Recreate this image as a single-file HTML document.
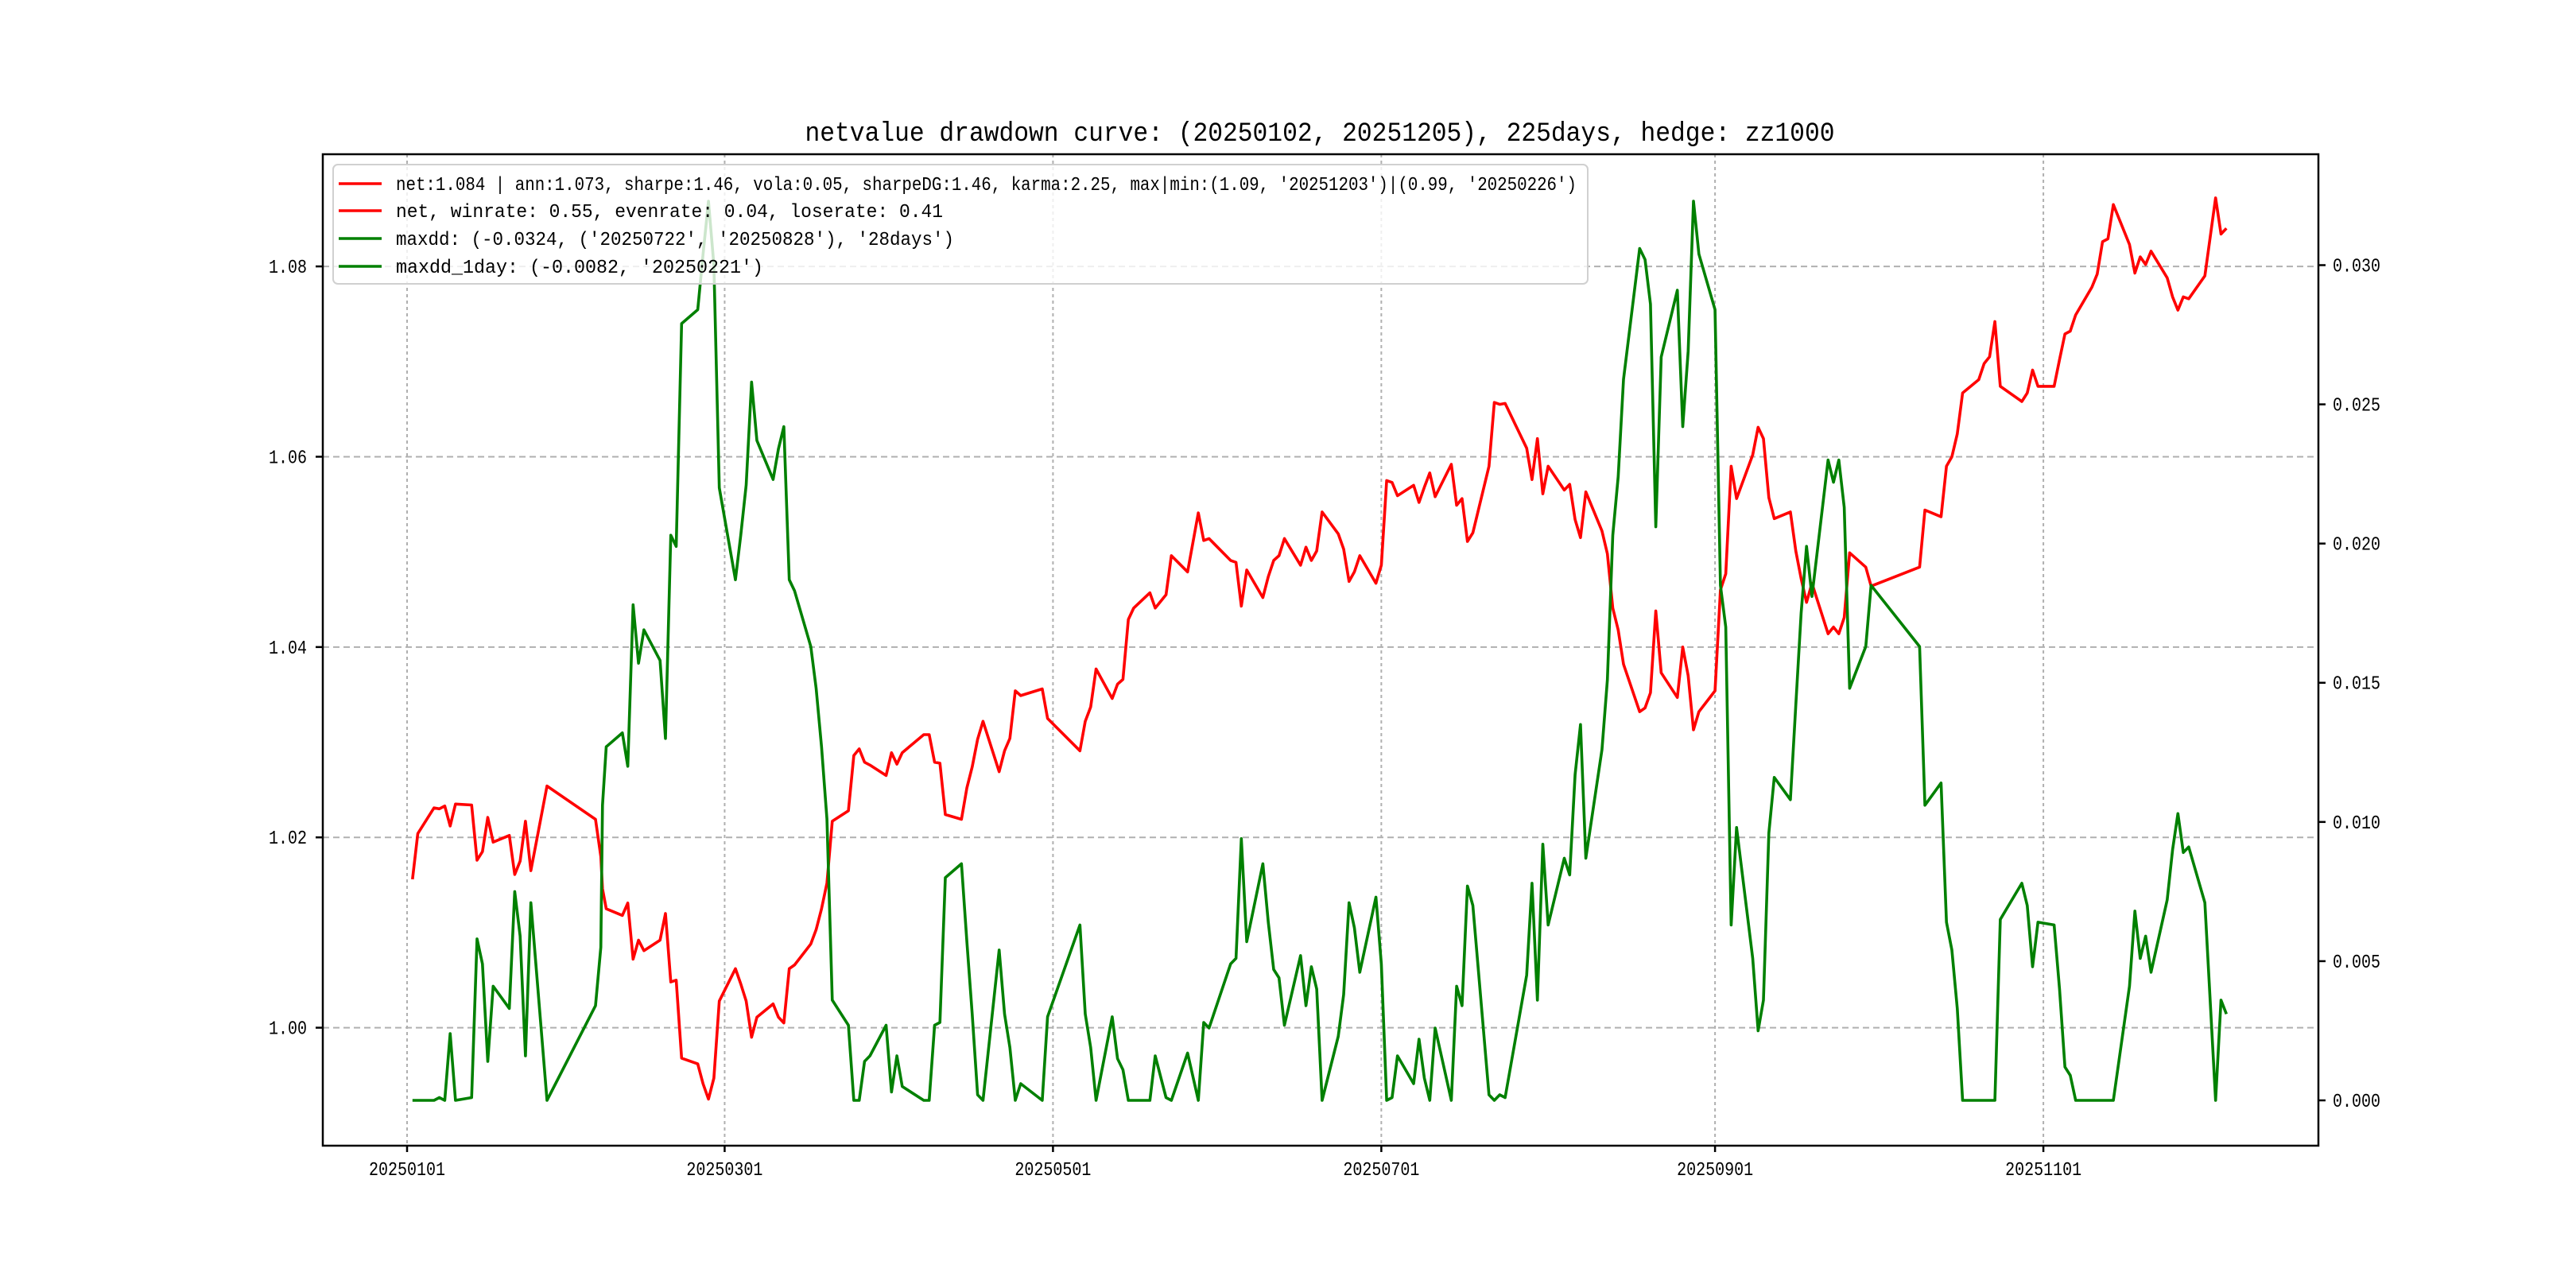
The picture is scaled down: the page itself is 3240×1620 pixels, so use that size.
<!DOCTYPE html>
<html><head><meta charset="utf-8"><style>
html,body{margin:0;padding:0;background:#fff;}
svg{display:block;font-family:"Liberation Mono","Noto Sans CJK SC",monospace;}
</style></head><body>
<svg id="chart" width="3240" height="1620" viewBox="0 0 3240 1620" xmlns="http://www.w3.org/2000/svg">
<rect x="0" y="0" width="3240" height="1620" fill="#fff"/>
<text x="1660" y="177" font-size="34" text-anchor="middle" textLength="1295" lengthAdjust="spacingAndGlyphs" fill="#000">netvalue drawdown curve: (20250102, 20251205), 225days, hedge: zz1000</text>
<g id="grid"></g>
<g id="series"></g>
<rect x="406" y="194" width="2510" height="1247" fill="none" stroke="#000" stroke-width="2.5"/>
<g id="axes"></g>
<g>
<rect x="419" y="207" width="1578" height="150" rx="6" fill="#fff" fill-opacity="0.8" stroke="#d0d0d0" stroke-width="2"/>
<line x1="426" y1="231" x2="480" y2="231" stroke="#ff0000" stroke-width="3.5"/>
<text x="498" y="239" font-size="24" textLength="1485" lengthAdjust="spacingAndGlyphs">net:1.084 | ann:1.073, sharpe:1.46, vola:0.05, sharpeDG:1.46, karma:2.25, max|min:(1.09, '20251203')|(0.99, '20250226')</text>
<line x1="426" y1="265" x2="480" y2="265" stroke="#ff0000" stroke-width="3.5"/>
<text x="498" y="273" font-size="24" textLength="688" lengthAdjust="spacingAndGlyphs">net, winrate: 0.55, evenrate: 0.04, loserate: 0.41</text>
<line x1="426" y1="300" x2="480" y2="300" stroke="#008000" stroke-width="3.5"/>
<text x="498" y="308" font-size="24" textLength="702" lengthAdjust="spacingAndGlyphs">maxdd: (-0.0324, ('20250722', '20250828'), '28days')</text>
<line x1="426" y1="335" x2="480" y2="335" stroke="#008000" stroke-width="3.5"/>
<text x="498" y="343" font-size="24" textLength="462" lengthAdjust="spacingAndGlyphs">maxdd_1day: (-0.0082, '20250221')</text>
</g>
</svg>
<script>
// day offsets from 20250101
const days = [1,2,5,6,7,8,9,12,13,14,15,16,19,20,21,22,23,26,35,36,36.3,37,40,41,42,43,44,47,48,49,50,51,54,55,56,57,58,61,62,63,64,65,68,69,70,71,72,75,76,77,78,79,82,83,84,85,86,89,90,91,92,96,97,98,99,100,103,104,105,106,107,110,111,112,113,114,118,119,125,126,127,128,131,132,133,134,135,138,139,141,142,145,147,148,149,153,154,155,156,159,160,161,162,163,166,167,168,169,170,173,174,175,176,177,180,181,182,183,184,187,188,189,190,191,194,195,196,197,198,201,202,203,204,208,209,210,211,212,215,216,217,218,219,222,223,224,225,226,229,230,231,232,233,236,237,238,239,240,243,244,245,246,247,250,251,252,253,254,257,258,259,260,261,264,265,266,267,268,271,272,281,282,285,286,287,288,289,292,293,294,295,296,300,301,302,303,306,307,308,309,310,313,314,315,316,317,320,321,322,323,324,327,328,329,330,331,334,336,337,338];
const netValues = [1.0156,1.0204,1.0231,1.0230,1.0233,1.0212,1.0235,1.0234,1.0176,1.0185,1.0221,1.0195,1.0202,1.0161,1.0175,1.0217,1.0165,1.0254,1.0219,1.0180,1.0146,1.0125,1.0118,1.0131,1.0072,1.0092,1.0081,1.0092,1.0120,1.0048,1.0050,0.9968,0.9962,0.9941,0.9925,0.9947,1.0028,1.0062,1.0046,1.0028,0.9990,1.0011,1.0025,1.0011,1.0005,1.0062,1.0066,1.0088,1.0103,1.0125,1.0152,1.0217,1.0228,1.0286,1.0293,1.0279,1.0276,1.0265,1.0289,1.0277,1.0289,1.0308,1.0308,1.0279,1.0278,1.0224,1.0219,1.0252,1.0274,1.0303,1.0322,1.0269,1.0291,1.0304,1.0354,1.0349,1.0356,1.0325,1.0291,1.0322,1.0337,1.0377,1.0346,1.0361,1.0366,1.0429,1.0441,1.0457,1.0441,1.0455,1.0496,1.0479,1.0541,1.0512,1.0514,1.0491,1.0489,1.0443,1.0481,1.0452,1.0474,1.0491,1.0496,1.0514,1.0486,1.0505,1.0491,1.0501,1.0542,1.0519,1.0503,1.0469,1.0479,1.0496,1.0467,1.0486,1.0575,1.0573,1.0559,1.0570,1.0552,1.0568,1.0583,1.0558,1.0592,1.0549,1.0556,1.0511,1.0520,1.0590,1.0657,1.0655,1.0656,1.0609,1.0576,1.0619,1.0561,1.0590,1.0565,1.0571,1.0534,1.0515,1.0563,1.0522,1.0498,1.0441,1.0418,1.0382,1.0332,1.0336,1.0352,1.0438,1.0373,1.0347,1.0400,1.0370,1.0313,1.0332,1.0354,1.0460,1.0477,1.0590,1.0556,1.0602,1.0631,1.0619,1.0557,1.0535,1.0542,1.0501,1.0472,1.0447,1.0467,1.0414,1.0421,1.0414,1.0431,1.0499,1.0484,1.0464,1.0484,1.0544,1.0537,1.0590,1.0600,1.0624,1.0667,1.0681,1.0698,1.0705,1.0742,1.0674,1.0658,1.0667,1.0691,1.0674,1.0674,1.0702,1.0729,1.0732,1.0749,1.0778,1.0792,1.0826,1.0829,1.0865,1.0823,1.0793,1.0810,1.0802,1.0816,1.0788,1.0768,1.0754,1.0768,1.0766,1.0790,1.0872,1.0834,1.0840];
const ddValues = [0,0,0,0.0001,0,0.0024,0,0.0001,0.0058,0.0049,0.0014,0.0041,0.0033,0.0075,0.0059,0.0016,0.0071,0,0.0034,0.0055,0.0106,0.0127,0.0132,0.0120,0.0178,0.0157,0.0169,0.0158,0.0130,0.0203,0.0199,0.0279,0.0284,0.0304,0.0323,0.0300,0.0220,0.0187,0.0203,0.0221,0.0258,0.0237,0.0223,0.0234,0.0242,0.0187,0.0183,0.0163,0.0148,0.0127,0.0101,0.0036,0.0027,0,0,0.0014,0.0016,0.0027,0.0003,0.0016,0.0005,0,0,0.0027,0.0028,0.0080,0.0085,0.0057,0.0031,0.0002,0,0.0054,0.0031,0.0019,0,0.0006,0,0.0030,0.0063,0.0031,0.0019,0,0.0030,0.0015,0.0011,0,0,0,0.0016,0.0001,0,0.0017,0,0.0028,0.0026,0.0049,0.0051,0.0094,0.0057,0.0085,0.0064,0.0047,0.0044,0.0027,0.0052,0.0034,0.0048,0.0040,0,0.0023,0.0038,0.0071,0.0062,0.0046,0.0073,0.0049,0,0.0001,0.0016,0.0006,0.0022,0.0008,0,0.0026,0,0.0041,0.0034,0.0077,0.0070,0.0002,0,0.0002,0.0001,0.0045,0.0078,0.0036,0.0092,0.0063,0.0087,0.0081,0.0117,0.0135,0.0087,0.0126,0.0151,0.0203,0.0224,0.0259,0.0306,0.0302,0.0286,0.0206,0.0267,0.0291,0.0242,0.0269,0.0323,0.0304,0.0284,0.0185,0.0170,0.0063,0.0098,0.0051,0.0025,0.0036,0.0096,0.0116,0.0108,0.0142,0.0175,0.0199,0.0181,0.0230,0.0222,0.0230,0.0213,0.0148,0.0163,0.0185,0.0163,0.0106,0.0114,0.0064,0.0054,0.0033,0,0,0,0,0,0.0065,0.0078,0.0070,0.0048,0.0064,0.0063,0.0040,0.0012,0.0009,0,0,0,0,0,0,0.0041,0.0068,0.0051,0.0059,0.0046,0.0072,0.0090,0.0103,0.0089,0.0091,0.0071,0,0.0036,0.0031];
const xTickDays = [0,59,120,181,243,304];
const xTickLabels = ["20250101","20250301","20250501","20250701","20250901","20251101"];
const leftTicks = [1.00,1.02,1.04,1.06,1.08];
const leftTickLabels = ["1.00","1.02","1.04","1.06","1.08"];
const rightTicks = [0,0.005,0.010,0.015,0.020,0.025,0.030];
const rightTickLabels = ["0.000","0.005","0.010","0.015","0.020","0.025","0.030"];

const NS="http://www.w3.org/2000/svg";
const L=406,R=2916,T=194,B=1441;
function xs(d){return 512+d*6.77;}
function yl(v){return 1292.6-(v-1)*11969;}
function yr(v){return 1384-v*35017;}
function mk(tag,attrs,parent){const e=document.createElementNS(NS,tag);for(const k in attrs)e.setAttribute(k,attrs[k]);parent.appendChild(e);return e;}
const grid=document.getElementById('grid'),axes=document.getElementById('axes'),series=document.getElementById('series');

xTickDays.forEach((d,i)=>{
  const x=xs(d);
  const g=mk('line',{x1:x,y1:T,x2:x,y2:B,stroke:'#b0b0b0','stroke-width':2,'stroke-dasharray':'4,4'},grid);
  
  
  const t=mk('line',{x1:x,y1:B,x2:x,y2:B+8,stroke:'#000','stroke-width':2.5},axes);
  
  
  const lb=mk('text',{x:x,y:B+37,'font-size':24,'text-anchor':'middle',textLength:96,lengthAdjust:'spacingAndGlyphs'},axes);
  lb.textContent=xTickLabels[i];
  
  
});
leftTicks.forEach((v,i)=>{
  const y=yl(v);
  const g=mk('line',{x1:L,y1:y,x2:R,y2:y,stroke:'#b0b0b0','stroke-width':2,'stroke-dasharray':'8,5'},grid);
  
  
  const t=mk('line',{x1:L-9,y1:y,x2:L,y2:y,stroke:'#000','stroke-width':2.5},axes);
  
  
  const lb=mk('text',{x:L-20,y:y+8,'font-size':24,'text-anchor':'end',textLength:48,lengthAdjust:'spacingAndGlyphs'},axes);
  lb.textContent=leftTickLabels[i];
  
  
});
rightTicks.forEach((v,i)=>{
  const y=yr(v);
  const t=mk('line',{x1:R,y1:y,x2:R+9,y2:y,stroke:'#000','stroke-width':2.5},axes);
  
  
  const lb=mk('text',{x:R+18,y:y+8,'font-size':24,textLength:60,lengthAdjust:'spacingAndGlyphs'},axes);
  lb.textContent=rightTickLabels[i];
  
  
});
const netPts=days.map((d,i)=>xs(d).toFixed(1)+','+yl(netValues[i]).toFixed(1)).join(' ');
const ddPts=days.map((d,i)=>xs(d).toFixed(1)+','+yr(ddValues[i]).toFixed(1)).join(' ');
const p1=mk('polyline',{points:netPts,fill:'none',stroke:'#ff0000','stroke-width':3.6,'stroke-linejoin':'round'},series);


const p2=mk('polyline',{points:ddPts,fill:'none',stroke:'#008000','stroke-width':3.6,'stroke-linejoin':'round'},series);


</script>
</body></html>
